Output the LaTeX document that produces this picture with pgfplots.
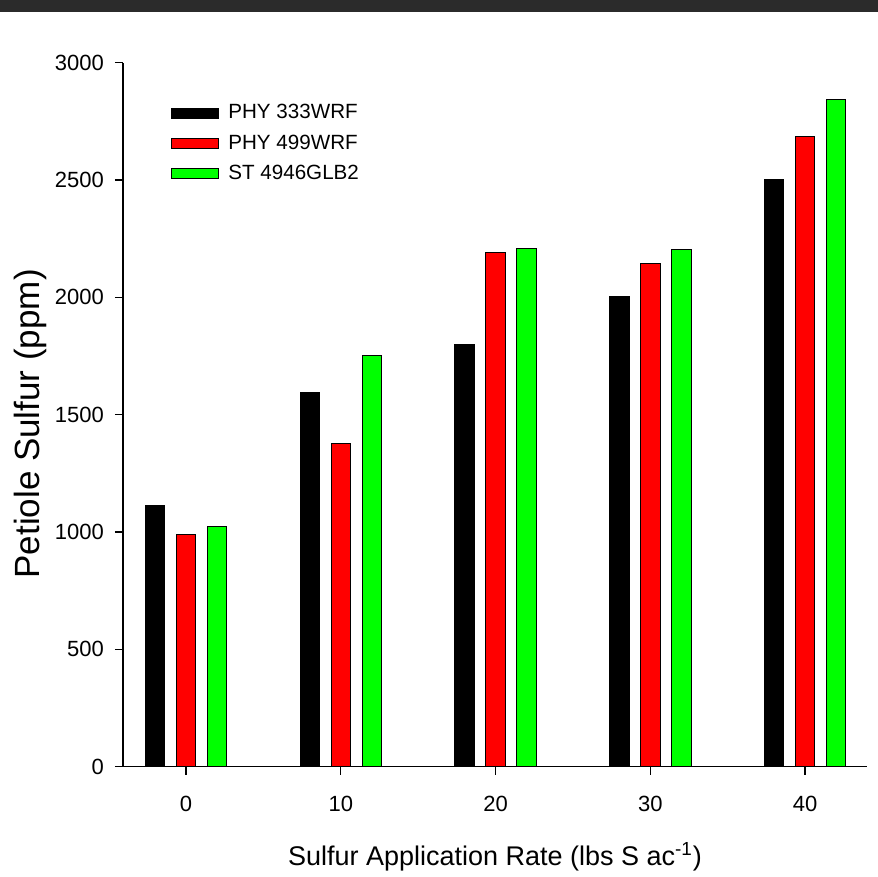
\documentclass[border=0pt]{standalone}
\usepackage{pgfplots}
\pgfplotsset{compat=1.18}
\usepackage{fontspec}
\setmainfont{Liberation Sans}
\definecolor{barred}{RGB}{255,0,0}
\definecolor{bargreen}{RGB}{0,255,0}
\definecolor{band}{RGB}{43,43,43}
\begin{document}
\begin{tikzpicture}
\useasboundingbox (-61.5pt,-55.15pt) rectangle (377.5pt,383.35pt);
\fill[band] (-61.5pt,377.35pt) rectangle (377.5pt,383.35pt);
\begin{axis}[
  scale only axis,
  width=372pt, height=352pt,
  xmin=-4.07, xmax=44.0,
  ymin=0, ymax=3000,
  axis x line*=bottom, axis y line*=left,
  axis line style={line width=0.6pt},
  xtick={0,10,20,30,40},
  ytick={0,500,1000,1500,2000,2500,3000},
  tick align=outside,
  major tick length=4pt,
  tick style={line width=0.6pt, black},
  minor tick num=0,
  /pgf/number format/assume math mode=true,
  /pgf/number format/1000 sep={},
  ticklabel style={font=\fontsize{11}{13}\selectfont},
  xticklabel style={yshift=-7pt},
  yticklabel style={xshift=-2pt},
  ybar=5.75pt,
  bar width=9.75pt,
  xlabel={Sulfur Application Rate (lbs S ac\textsuperscript{-1})},
  ylabel={Petiole Sulfur (ppm)},
  xlabel style={font=\fontsize{13.5}{16}\selectfont, at={(axis description cs:0.5,-0.128)}, anchor=center},
  ylabel style={font=\fontsize{17.5}{20}\selectfont, at={(axis description cs:-0.125,0.487)}, anchor=center},
  legend style={draw=none, fill=none, at={(axis description cs:0.0645,0.944)}, anchor=north west,
    font=\fontsize{10.3}{12}\selectfont, row sep=4.5pt, column sep=3.5pt, inner sep=0pt,
    nodes={inner sep=1pt}},
  legend cell align=left,
  legend image code/.code={\draw[#1,draw=black,line width=0.5pt] (0pt,-2.5pt) rectangle (23.5pt,2.5pt);},
]
\addplot[fill=black, draw=black, line width=0.5pt] coordinates {(0,1115) (10,1595) (20,1800) (30,2002) (40,2504)};
\addplot[fill=barred, draw=black, line width=0.5pt] coordinates {(0,990) (10,1378) (20,2193) (30,2143) (40,2686)};
\addplot[fill=bargreen, draw=black, line width=0.5pt] coordinates {(0,1023) (10,1752) (20,2208) (30,2203) (40,2842)};
\legend{PHY 333WRF, PHY 499WRF, ST 4946GLB2}
\end{axis}
\end{tikzpicture}
\end{document}
